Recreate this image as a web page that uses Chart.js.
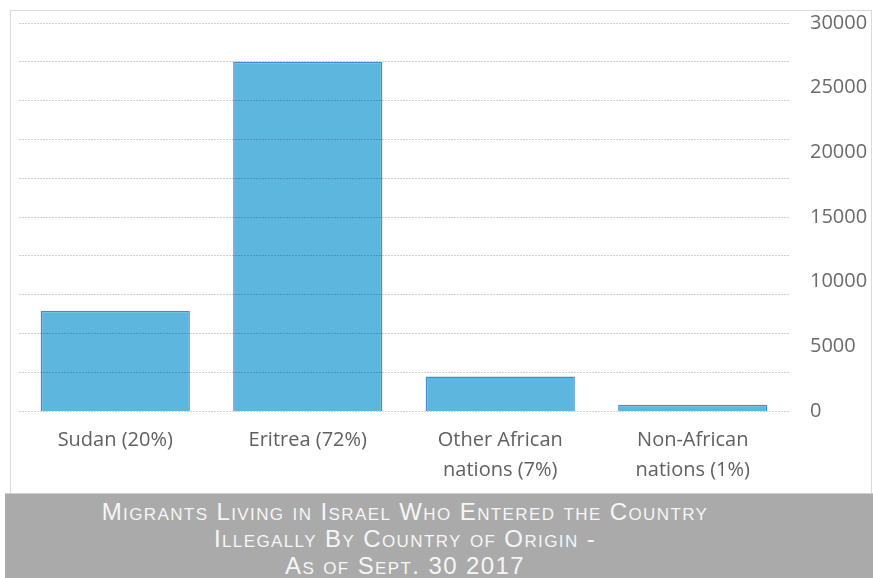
<!DOCTYPE html>
<html>
<head>
<meta charset="utf-8">
<script src="https://cdn.jsdelivr.net/npm/chart.js@4"></script>
<style>
    body { margin: 0; background: #fff; width: 873px; height: 578px; position: relative; overflow: hidden; }
    #frame {
        position: absolute; left: 10px; top: 10px; width: 862px; height: 484px;
        border: 1px solid #dadada; box-sizing: border-box;
    }
    #chartBox { position: absolute; left: 0; top: 0; width: 860px; height: 482px; }
    #caption {
        position: absolute; left: 5px; top: 493px; width: 868px; height: 85px;
        background: #aaaaaa; border-top: 1px solid #cfcfcf; box-sizing: border-box;
        color: #f6f6f6; text-align: center;
        font-family: "Liberation Sans", Arial, sans-serif;
        font-variant: small-caps;
        font-size: 24px; letter-spacing: 1.4px; line-height: 27px; padding-top: 4px;
    }
    #caption div { margin-left: -68px; }
</style>
</head>
<body>
<div id="frame">
    <div id="chartBox"><canvas id="migrantsChart"></canvas></div>
</div>
<div id="caption">
    <div>Migrants Living in Israel Who Entered the Country</div>
    <div>Illegally By Country of Origin -</div>
    <div>As of Sept. 30 2017</div>
</div>
<script>
    const categories = [
        ['Sudan (20%)'],
        ['Eritrea (72%)'],
        ['Other African', 'nations (7%)'],
        ['Non-African', 'nations (1%)']
    ];
    const migrants = [7750, 27000, 2660, 480];
    const axisMax = 30000;
    const labelStep = 5000;
    const gridStep = 3000;

    // pin an axis to a fixed thickness and drop its label overhang
    const fixSize = (w, h) => (scale) => {
        if (w !== null) scale.width = w;
        if (h !== null) scale.height = h;
        scale.paddingTop = 0;
        scale.paddingBottom = 0;
    };

    new Chart(document.getElementById('migrantsChart'), {
        type: 'bar',
        data: {
            labels: categories,
            datasets: [{
                data: migrants,
                yAxisID: 'y',
                backgroundColor: 'rgb(93, 182, 221)',
                borderColor: 'rgb(66, 140, 212)',
                borderWidth: 1.5,
                barPercentage: 0.775,
                categoryPercentage: 1
            }]
        },
        options: {
            responsive: true,
            maintainAspectRatio: false,
            animation: false,
            layout: { padding: { left: 8, top: 12, right: 0, bottom: 0 } },
            plugins: {
                legend: { display: false },
                tooltip: { enabled: false }
            },
            scales: {
                x: {
                    grid: { display: false },
                    border: { display: false },
                    ticks: {
                        color: '#606060',
                        padding: 6,
                        font: { family: 'Open Sans', size: 20, lineHeight: 1.5 }
                    },
                    afterFit: fixSize(null, 82)
                },
                y: {
                    position: 'right',
                    min: 0,
                    max: axisMax,
                    grid: { display: false },
                    border: { display: false },
                    ticks: {
                        stepSize: labelStep,
                        color: '#6a6a6a',
                        padding: 13,
                        font: { family: 'Open Sans', size: 20 },
                        callback: (v) => String(v)
                    },
                    afterFit: fixSize(82, null)
                },
                // dotted gridlines on their own step, drawn over the bars
                yGrid: {
                    position: 'left',
                    min: 0,
                    max: axisMax,
                    grid: {
                        z: 1,
                        color: 'rgba(0, 0, 0, 0.18)',
                        lineWidth: 1,
                        drawTicks: false
                    },
                    border: { display: false, dash: [2, 1] },
                    ticks: { display: false, stepSize: gridStep },
                    afterFit: fixSize(0, null)
                }
            }
        }
    });
</script>
</body>
</html>
